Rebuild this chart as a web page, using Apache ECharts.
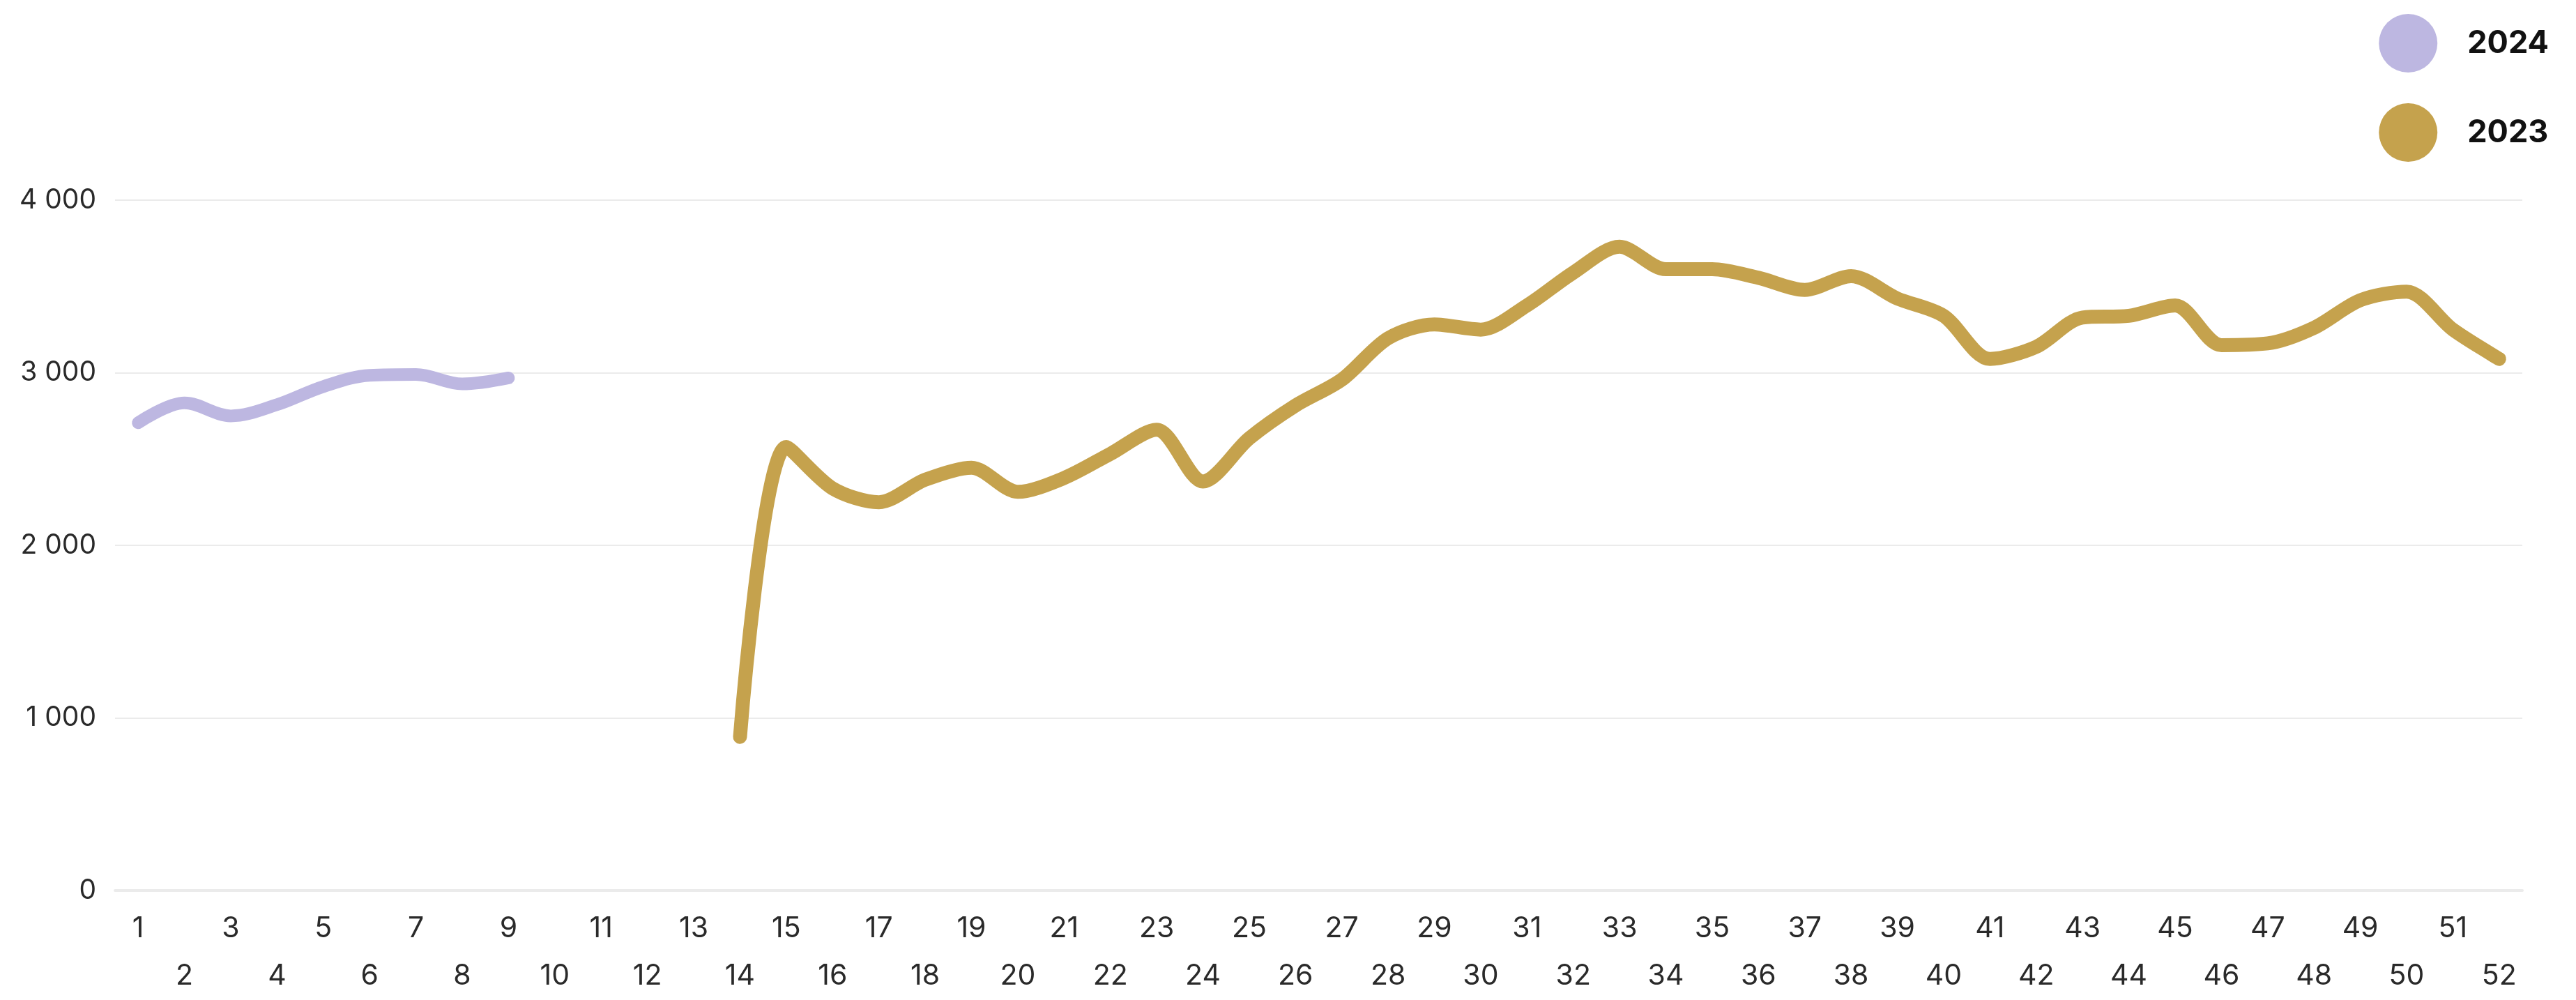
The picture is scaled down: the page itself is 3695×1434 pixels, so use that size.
<!DOCTYPE html>
<html>
<head>
<meta charset="utf-8">
<script src="https://cdn.jsdelivr.net/npm/echarts@6/dist/echarts.min.js"></script>
<style>
html,body{margin:0;padding:0;background:#fff;}
#chart{width:3695px;height:1434px;}
</style>
</head>
<body>
<div id="chart"></div>
<script>
// Week categories
var weeks = [];
for (var w = 1; w <= 52; w++) weeks.push(String(w));

// 2024 values, weeks 1..9
var values2024 = [2710, 2825, 2750, 2815, 2920, 2985, 2990, 2935, 2970];
var start2024 = 1;

// 2023 values, weeks 14..52
var values2023 = [890, 2570, 2330, 2250, 2380, 2450, 2310, 2390, 2530, 2670,
                  2370, 2620, 2810, 2960, 3200, 3280, 3250, 3390, 3580, 3730,
                  3600, 3600, 3550, 3480, 3560, 3430, 3330, 3080, 3150, 3320,
                  3330, 3390, 3160, 3170, 3260, 3420, 3470, 3250, 3080];
var start2023 = 14;

var yTicks = [0, 1000, 2000, 3000, 4000];
var seriesNames = ['2024', '2023'];

function pad(values, startWeek) {
  var out = [];
  for (var i = 0; i < weeks.length; i++) {
    var k = i - (startWeek - 1);
    out.push(k >= 0 && k < values.length ? values[k] : null);
  }
  return out;
}

var chart = echarts.init(document.getElementById('chart'));
chart.setOption({
  animation: false,
  backgroundColor: '#ffffff',
  legend: {
    data: seriesNames,
    orient: 'vertical',
    right: 34,
    top: 15,
    icon: 'circle',
    itemWidth: 84,
    itemHeight: 84,
    itemGap: 44,
    textStyle: {
      fontFamily: 'Inter',
      fontWeight: 'bold',
      fontSize: 45,
      color: '#111',
      padding: [0, 0, 0, 38]
    }
  },
  grid: {
    left: 165,
    right: 77,
    top: 287,
    bottom: 147,
    containLabel: false
  },
  xAxis: {
    type: 'category',
    data: weeks,
    boundaryGap: true,
    axisLine: { show: true, lineStyle: { color: '#ebebeb', width: 4 } },
    axisTick: { show: false },
    axisLabel: {
      interval: 0,
      margin: 21,
      lineHeight: 68,
      fontFamily: 'Inter',
      fontSize: 41,
      color: '#2a2a2a',
      formatter: function (v, i) { return i % 2 === 0 ? v : '\n' + v; }
    },
    splitLine: { show: false }
  },
  yAxis: {
    type: 'value',
    min: yTicks[0],
    max: yTicks[yTicks.length - 1],
    interval: 1000,
    axisLine: { show: false },
    axisTick: { show: false },
    axisLabel: {
      margin: 27,
      fontFamily: 'Inter',
      fontSize: 39,
      color: '#2a2a2a',
      formatter: function (v) {
        return String(v).replace(/\B(?=(\d{3})+(?!\d))/g, ' ');
      }
    },
    splitLine: { show: true, lineStyle: { color: '#ebebeb', width: 2 } }
  },
  series: [
    {
      name: '2024',
      type: 'line',
      data: pad(values2024, start2024),
      smooth: 0.35,
      showSymbol: false,
      symbol: 'none',
      connectNulls: false,
      lineStyle: { color: '#bdb7e1', width: 18, cap: 'round', join: 'round' },
      itemStyle: { color: '#bdb7e1' }
    },
    {
      name: '2023',
      type: 'line',
      data: pad(values2023, start2023),
      smooth: 0.3,
      showSymbol: false,
      symbol: 'none',
      connectNulls: false,
      lineStyle: { color: '#c5a24d', width: 20, cap: 'round', join: 'round' },
      itemStyle: { color: '#c5a24d' }
    }
  ]
});
</script>
</body>
</html>
